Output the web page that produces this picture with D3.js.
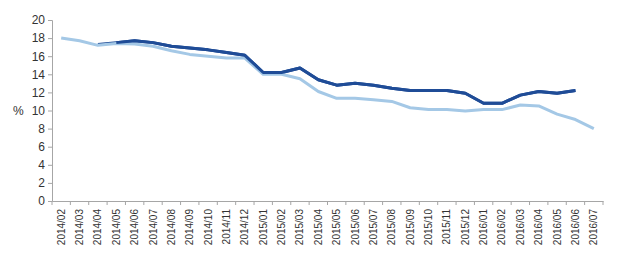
<!DOCTYPE html>
<html>
<head>
<meta charset="utf-8">
<script src="https://cdn.jsdelivr.net/npm/d3@7"></script>
<style>
  body { margin: 0; background: #fff; }
  svg { display: block; font-family: "Liberation Sans", Arial, sans-serif; }
</style>
</head>
<body>
<svg id="chart" width="623" height="270"></svg>
<script>
// months along the x axis
var months = ["2014/02","2014/03","2014/04","2014/05","2014/06","2014/07","2014/08","2014/09","2014/10","2014/11","2014/12",
  "2015/01","2015/02","2015/03","2015/04","2015/05","2015/06","2015/07","2015/08","2015/09","2015/10","2015/11","2015/12",
  "2016/01","2016/02","2016/03","2016/04","2016/05","2016/06","2016/07"];

// dark series (hidden under the light one at the start, stops at 2016/06)
var darkValues = [null, null, 17.3, 17.5, 17.7, 17.5, 17.1, 16.9, 16.7, 16.4, 16.1,
  14.2, 14.2, 14.7, 13.4, 12.8, 13.0, 12.8, 12.45, 12.2, 12.2, 12.2, 11.9,
  10.8, 10.8, 11.7, 12.1, 11.9, 12.2, null];

// light series
var lightValues = [18.0, 17.7, 17.2, 17.4, 17.35, 17.1, 16.6, 16.2, 16.0, 15.8, 15.8,
  14.0, 14.0, 13.5, 12.1, 11.35, 11.35, 11.2, 11.0, 10.3, 10.1, 10.1, 9.95,
  10.1, 10.1, 10.6, 10.5, 9.6, 9.0, 8.0];

var yTicks = [0, 2, 4, 6, 8, 10, 12, 14, 16, 18, 20];

var svg = d3.select("#chart"),
    margin = {top: 20, right: 20, bottom: 69, left: 52},
    width = +svg.attr("width") - margin.left - margin.right,
    height = +svg.attr("height") - margin.top - margin.bottom,
    g = svg.append("g").attr("transform", "translate(" + margin.left + "," + margin.top + ")");

var x = d3.scaleBand().domain(months).range([0, width]);
var y = d3.scaleLinear().domain([0, 20]).range([height, 0]);

var axisColor = "#a6a6a6";

// y axis
var yAxis = g.append("g")
    .call(d3.axisLeft(y).tickValues(yTicks).tickSize(4).tickPadding(3));
yAxis.select(".domain").attr("stroke", axisColor);
yAxis.selectAll(".tick line").attr("stroke", axisColor);
yAxis.selectAll(".tick text")
    .attr("fill", "#333")
    .style("font-size", "12px");

// x axis, ticks between categories
var xAxis = g.append("g")
    .attr("transform", "translate(0," + height + ")")
    .call(d3.axisBottom(x).tickSize(0).tickSizeOuter(0).tickPadding(0));
xAxis.select(".domain").attr("stroke", axisColor);
xAxis.selectAll(".tick text")
    .attr("fill", "#333")
    .style("font-size", "10px")
    .attr("text-anchor", "end")
    .attr("transform", "rotate(-90)")
    .attr("x", -8)
    .attr("y", 0)
    .attr("dy", "0.35em");

g.append("g").selectAll("line")
    .data(months.concat(["end"]))
    .enter().append("line")
    .attr("x1", function(d, i) { return i * x.step(); })
    .attr("x2", function(d, i) { return i * x.step(); })
    .attr("y1", height)
    .attr("y2", height + 4)
    .attr("stroke", axisColor);

// "%" label
svg.append("text")
    .attr("x", 13)
    .attr("y", margin.top + y(10))
    .attr("dy", "0.35em")
    .attr("fill", "#333")
    .style("font-size", "12px")
    .text("%");

var line = d3.line()
    .defined(function(d) { return d != null; })
    .x(function(d, i) { return x(months[i]) + x.bandwidth() / 2; })
    .y(function(d) { return y(d); });

g.append("path")
    .datum(darkValues)
    .attr("fill", "none")
    .attr("stroke", "#1f4c97")
    .attr("stroke-width", 3)
    .attr("stroke-linejoin", "round")
    .attr("d", line);

g.append("path")
    .datum(lightValues)
    .attr("fill", "none")
    .attr("stroke", "#a4c8e6")
    .attr("stroke-width", 3)
    .attr("stroke-linejoin", "round")
    .attr("d", line);

// dark line drawn again over the light one where it sits above it
g.append("path")
    .datum(darkValues.map(function(d, i) { return i >= 3 ? d : null; }))
    .attr("fill", "none")
    .attr("stroke", "#1f4c97")
    .attr("stroke-width", 3)
    .attr("stroke-linejoin", "round")
    .attr("d", line);
</script>
</body>
</html>
